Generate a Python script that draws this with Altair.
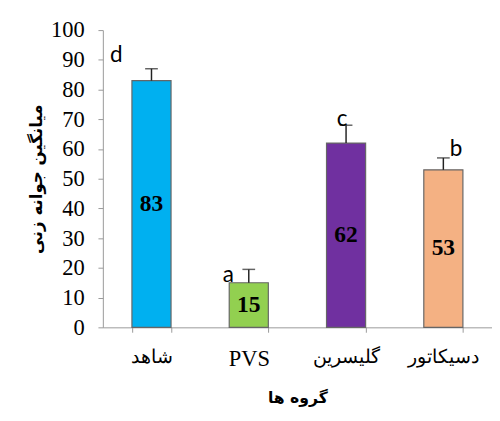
import altair as alt
import pandas as pd

groups = ["شاهد", "PVS", "گلیسرین", "دسیکاتور"]
means = [83, 15, 62, 53]
upper = [87, 19.5, 68, 57]
letters = ["d", "a", "c", "b"]
colors = ["#00B0F0", "#92D050", "#7030A0", "#F4B183"]
yticks = [0, 10, 20, 30, 40, 50, 60, 70, 80, 90, 100]

df = pd.DataFrame({"group": groups, "mean": means, "upper": upper,
                   "letter": letters, "half": [m / 2 for m in means]})

SERIF = "Liberation Serif"

xaxis = alt.Axis(labelAngle=0, tickBand="extent", labelPadding=16,
                 titlePadding=20,
                 labelFontSize={"condition": {"test": "datum.value == 'PVS'", "value": 23},
                                "value": 19})
yaxis = alt.Axis(values=yticks, grid=False, labelPadding=14, titlePadding=5,
                 labelFontSize=23, titleFontSize=17)
xscale = alt.Scale(domain=groups, paddingInner=0.6, paddingOuter=0.3)
yscale = alt.Scale(domain=[0, 100])
XT = "گروه ها"
YT = "میانگین جوانه زنی"


def X():
    return alt.X("group:N", sort=groups, title=XT, scale=xscale, axis=xaxis)


def Y(field):
    return alt.Y(field, title=YT, scale=yscale, axis=yaxis)


base = alt.Chart(df)

bars = base.mark_bar(stroke="#666", strokeWidth=1.2, size=40).encode(
    x=X(), y=Y("mean:Q"),
    color=alt.Color("group:N", sort=groups,
                    scale=alt.Scale(domain=groups, range=colors), legend=None),
)

err = base.mark_rule(color="#222", strokeWidth=1.5).encode(
    x=X(), y=Y("mean:Q"), y2="upper:Q")

cap = base.mark_tick(color="#222", thickness=1.5, size=13, orient="horizontal").encode(
    x=X(), y=Y("upper:Q"))

vals = base.mark_text(font=SERIF, fontSize=24, fontWeight="bold",
                      color="#000", baseline="middle").encode(
    x=X(), y=Y("half:Q"), text="mean:Q")

offsets = {"d": (-36, -14), "a": (-21, 6), "c": (-4, -6), "b": (13, -9)}
letter_layers = []
for lt, (dx, dy) in offsets.items():
    letter_layers.append(
        base.transform_filter(alt.datum.letter == lt).mark_text(
            font="Lato", fontSize=23, color="#000", baseline="middle",
            dx=dx, dy=dy).encode(
            x=X(), y=Y("upper:Q"), text="letter:N"))

chart = alt.layer(bars, err, cap, vals, *letter_layers).properties(
    width=398, height=304,
    autosize=alt.AutoSizeParams(type="none"),
    padding={"left": 97, "top": 18, "right": 0, "bottom": 83},
).configure_view(stroke=None).configure_axis(
    labelFont=SERIF, labelColor="#000", labelOverlap=False,
    tickSize=5, tickColor="#999", domainColor="#999",
    titleFont="DejaVu Sans", titleFontSize=16, titleFontWeight="bold",
    titleColor="#000",
)

chart.save("out.html", embed_options={"renderer": "svg", "actions": False})
